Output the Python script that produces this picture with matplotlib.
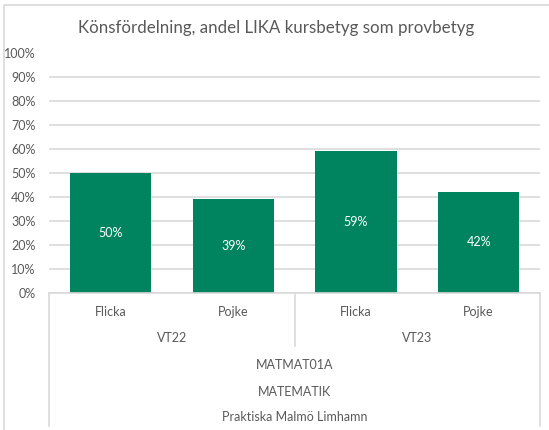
import matplotlib.pyplot as plt
from matplotlib.lines import Line2D
from matplotlib.patches import Rectangle

# data
genders = ["Flicka", "Pojke", "Flicka", "Pojke"]
terms = ["VT22", "VT23"]
values = [50, 39, 59, 42]
course = "MATMAT01A"
subject = "MATEMATIK"
school = "Praktiska Malmö Limhamn"
title = "Könsfördelning, andel LIKA kursbetyg som provbetyg"

BAR = "#00845f"
TXT = "#595959"
GRID = "#d9d9d9"

plt.rcParams["font.family"] = ["Lato", "DejaVu Sans"]

fig = plt.figure(figsize=(5.49, 4.30), dpi=100)
W, H = 549, 430


def fx(px):
    return px / W


def fy(py):
    return 1 - py / H


x0, x1, ytop, ybot = 49.3, 540.0, 52.5, 293.0
ax = fig.add_axes([fx(x0), fy(ybot), fx(x1 - x0), (ybot - ytop) / H])

x = range(len(values))
bars = ax.bar(x, values, width=0.665, color=BAR, zorder=3)
for b, v in zip(bars, values):
    ax.text(b.get_x() + b.get_width() / 2, v / 2, f"{v}%", ha="center", va="center",
            color="white", fontsize=9, zorder=4)

ax.set_xlim(-0.5, len(values) - 0.5)
ax.set_ylim(0, 100)
ax.set_yticks(range(0, 101, 10))
ax.set_yticklabels([f"{t}%" for t in range(0, 101, 10)])
ax.tick_params(axis="y", length=0, labelsize=9, labelcolor=TXT, pad=10)
ax.set_xticks([])
ax.yaxis.grid(True, color=GRID, linewidth=1.2, zorder=0)
for s in ax.spines.values():
    s.set_visible(False)

# category labels
for i, g in enumerate(genders):
    xp = x0 + (i + 0.5) * (x1 - x0) / len(genders)
    fig.text(fx(xp), fy(312), g, ha="center", va="center", fontsize=9, color=TXT)
for j, t in enumerate(terms):
    xp = x0 + (j + 0.5) * (x1 - x0) / len(terms)
    fig.text(fx(xp), fy(338), t, ha="center", va="center", fontsize=9, color=TXT)
xm = (x0 + x1) / 2
fig.text(fx(xm), fy(365), course, ha="center", va="center", fontsize=9, color=TXT)
fig.text(fx(xm), fy(392), subject, ha="center", va="center", fontsize=9, color=TXT)
fig.text(fx(xm), fy(417), school, ha="center", va="center", fontsize=9, color=TXT)

# category axis lines
lines = [
    ((x0, x1), (ybot, ybot)),
    ((x0, x0), (ybot, 426)),
    ((x1, x1), (ybot, 426)),
    ((xm, xm), (ybot, 346)),
]
for xs, ys in lines:
    fig.add_artist(Line2D([fx(v) for v in xs], [fy(v) for v in ys], color=GRID, linewidth=1.2))

# chart border
fig.add_artist(Rectangle((fx(4), fy(440)), fx(600), (440 - 5) / H, fill=False,
                         edgecolor=GRID, linewidth=1.2))

fig.text(fx(276), fy(28), title, ha="center", va="center", fontsize=12.2, color=TXT)

fig.savefig("out.png", dpi=100)
